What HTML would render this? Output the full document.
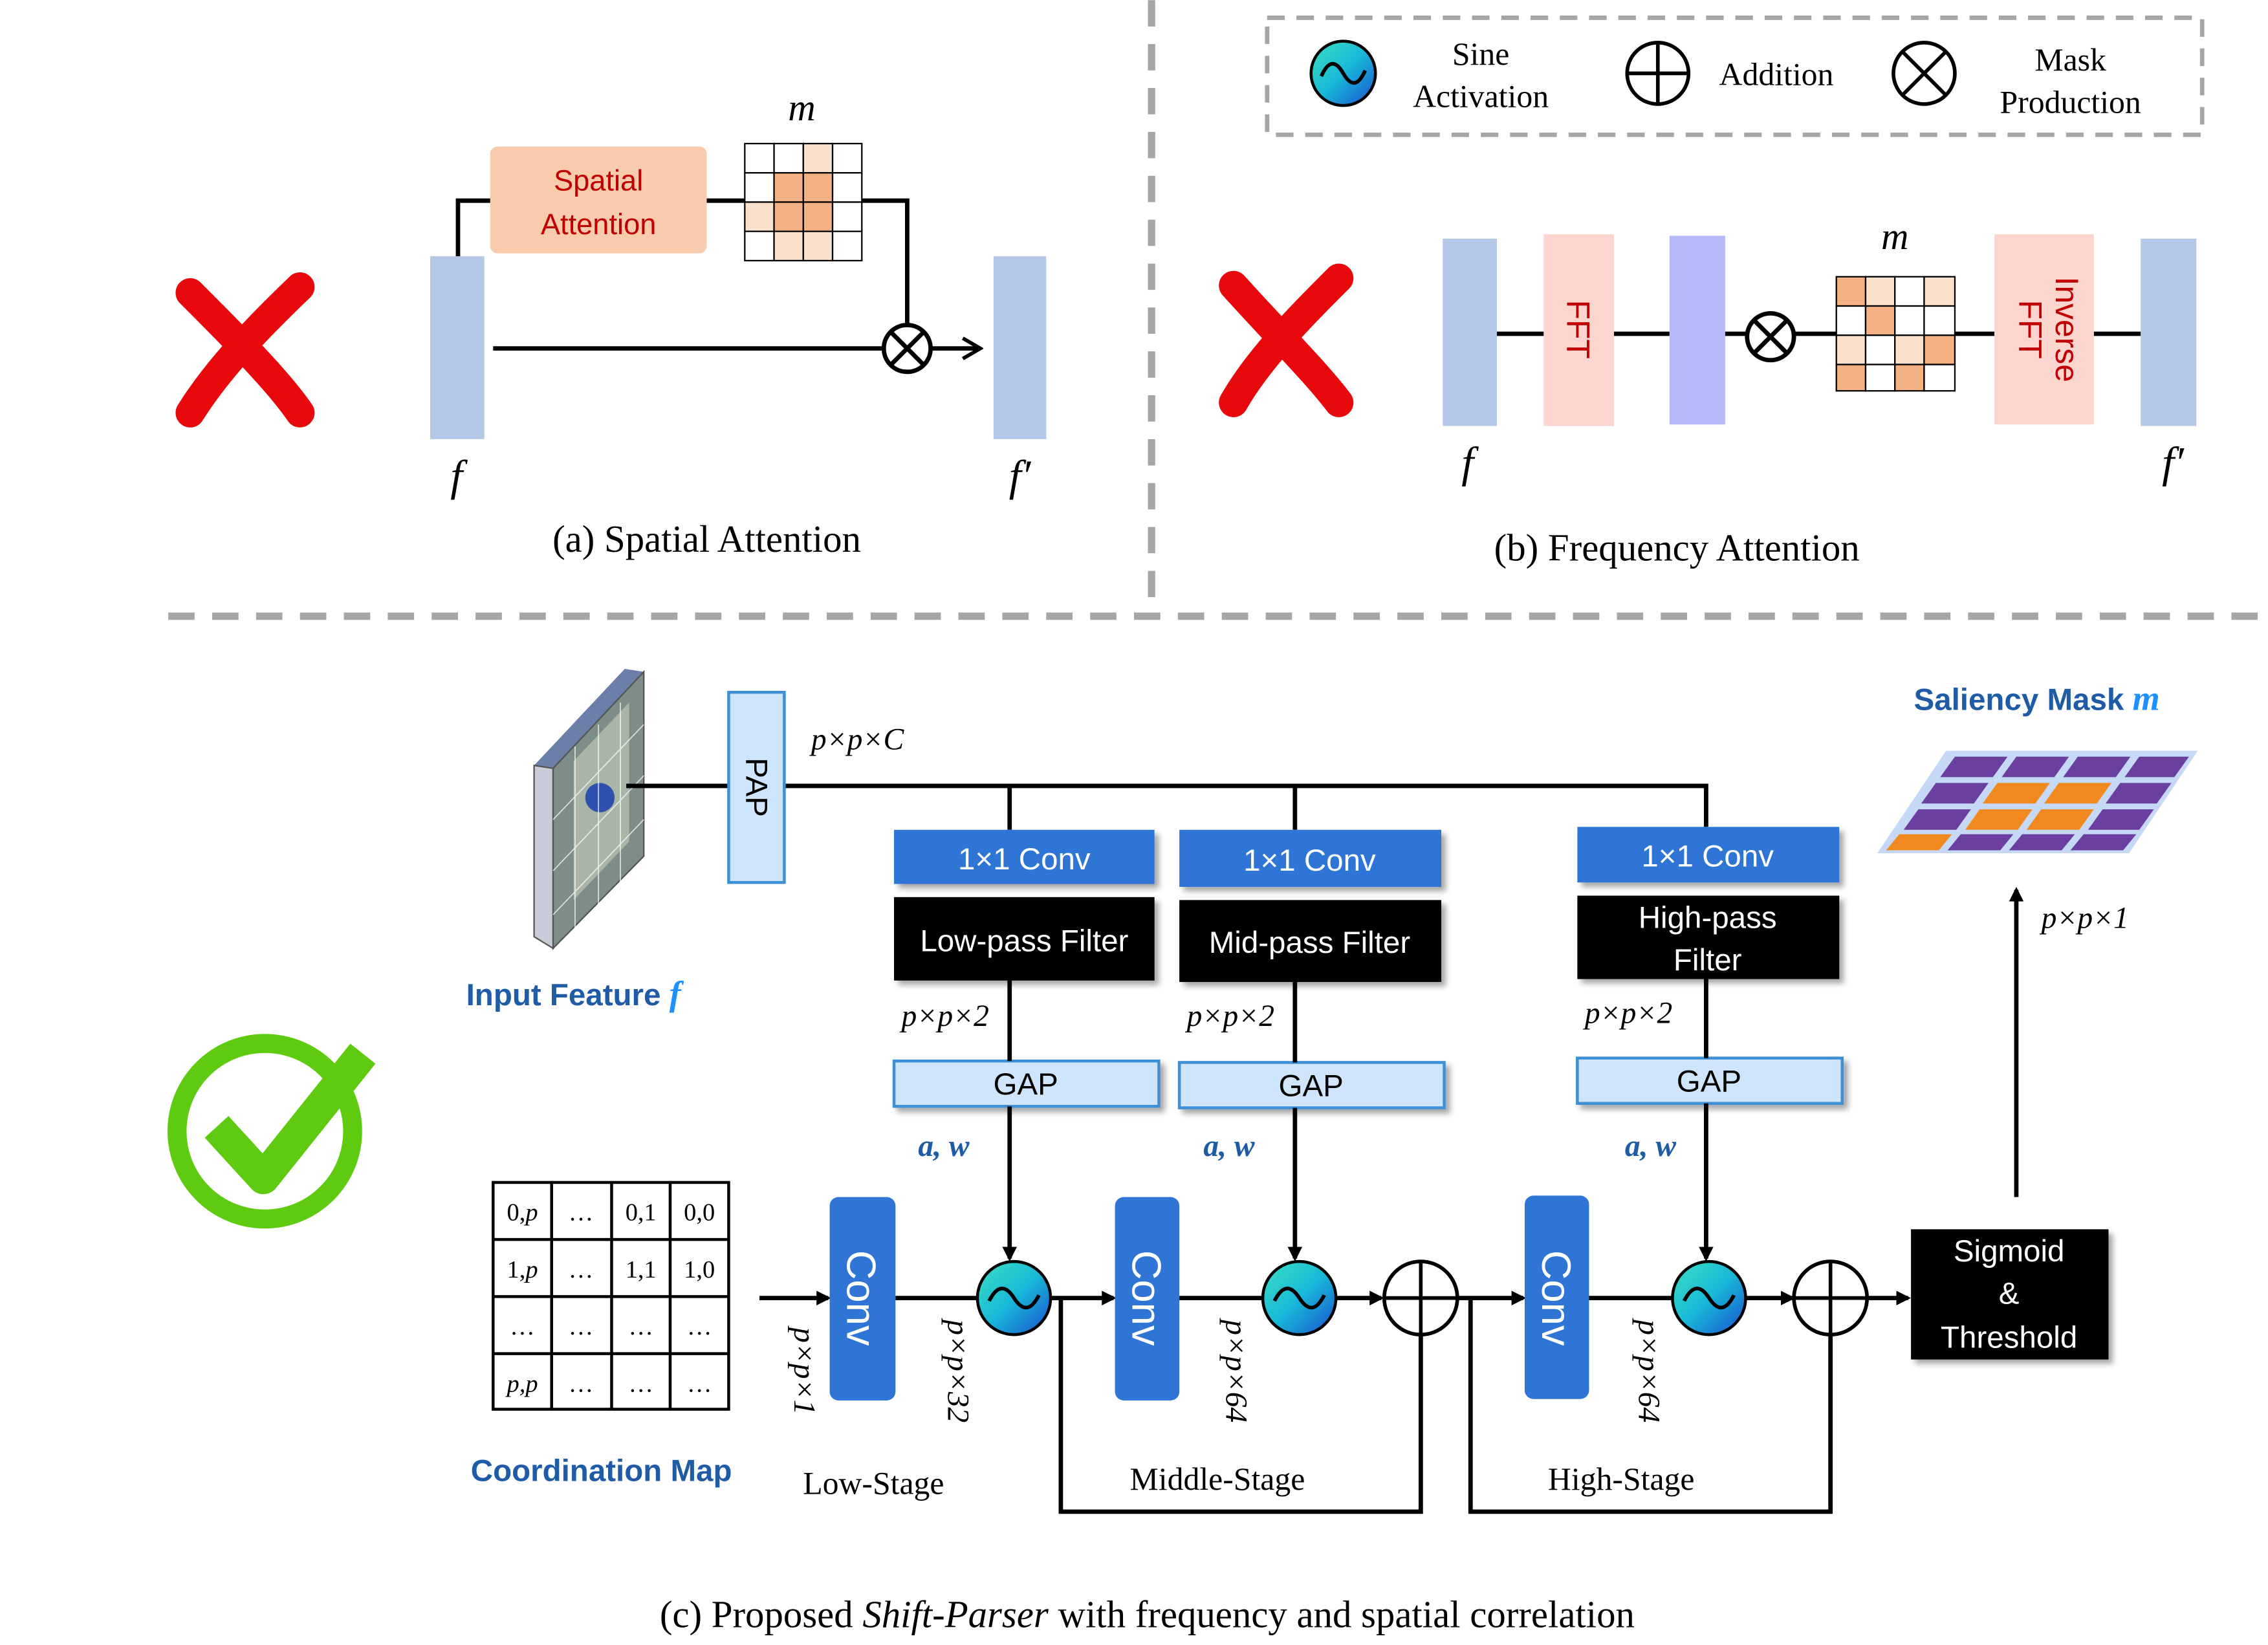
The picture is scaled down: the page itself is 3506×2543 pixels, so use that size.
<!DOCTYPE html>
<html><head><meta charset="utf-8"><style>
html,body{margin:0;padding:0;background:#fff}
svg{display:block}
.s{font-family:"Liberation Serif",serif}
.a{font-family:"Liberation Sans","DejaVu Sans",sans-serif}
</style></head><body>
<svg width="3506" height="2543" viewBox="0 0 1550 1124" xmlns="http://www.w3.org/2000/svg">
<defs>
<linearGradient id="sg" x1="0" y1="0" x2="1" y2="1"><stop offset="0" stop-color="#3de0c0"/><stop offset="0.5" stop-color="#18b8d8"/><stop offset="1" stop-color="#1a4fd0"/></linearGradient>
<marker id="ar" markerWidth="10" markerHeight="10" refX="8" refY="5" orient="auto" markerUnits="userSpaceOnUse"><path d="M0,0 L10,5 L0,10 z" fill="#000"/></marker>
<marker id="ar2" markerWidth="16" markerHeight="16" refX="14" refY="8" orient="auto" markerUnits="userSpaceOnUse"><path d="M2,1 L14,8 L2,15" fill="none" stroke="#000" stroke-width="2.5"/></marker>
<filter id="sh"><feDropShadow dx="3" dy="3" stdDeviation="2" flood-opacity="0.35"/></filter>
</defs>
<g stroke="#a6a6a6" stroke-width="5" stroke-dasharray="18,12" fill="none">
<line x1="787" y1="0" x2="787" y2="420"/>
<line x1="115" y1="421" x2="1550" y2="421"/>
</g>
<rect x="866" y="12" width="639" height="80" fill="none" stroke="#a6a6a6" stroke-width="3" stroke-dasharray="12,8"/>
<!-- legend -->
<circle cx="918" cy="50" r="22" fill="url(#sg)" stroke="#000" stroke-width="2"/>
<path d="M903,52 q7,-16 15,-2 q8,14 15,-2" fill="none" stroke="#000" stroke-width="2.5"/>
<text class="s" x="1012" y="44" font-size="22" text-anchor="middle">Sine</text>
<text class="s" x="1012" y="73" font-size="22" text-anchor="middle">Activation</text>
<circle cx="1133" cy="50" r="21" fill="none" stroke="#000" stroke-width="2.5"/>
<path d="M1112,50 H1154 M1133,29 V71" stroke="#000" stroke-width="2.5"/>
<text class="s" x="1214" y="58" font-size="22" text-anchor="middle">Addition</text>
<circle cx="1315" cy="50" r="21" fill="none" stroke="#000" stroke-width="2.5"/>
<path d="M1300,35 L1330,65 M1330,35 L1300,65" stroke="#000" stroke-width="2.5"/>
<text class="s" x="1415" y="48" font-size="22" text-anchor="middle">Mask</text>
<text class="s" x="1415" y="77" font-size="22" text-anchor="middle">Production</text>
<!-- (a) -->
<path d="M130,200 C160,230 190,260 205,282 M205,196 C180,220 150,250 130,282" stroke="#e8090d" stroke-width="20" stroke-linecap="round" fill="none"/>
<rect x="294" y="175" width="37" height="125" fill="#b4c7e7"/>
<rect x="679" y="175" width="36" height="125" fill="#b4c7e7"/>
<rect x="335" y="100" width="148" height="73" rx="5" fill="#f8cbad"/>
<text class="a" x="409" y="130" font-size="20" fill="#c00000" text-anchor="middle">Spatial</text>
<text class="a" x="409" y="160" font-size="20" fill="#c00000" text-anchor="middle">Attention</text>
<path d="M313,175 V137 H335 M483,137 H509 M589,137 H620 V222" fill="none" stroke="#000" stroke-width="3"/>
<g stroke="#000" stroke-width="1">
<rect x="509" y="98" width="20" height="20" fill="#fff"/><rect x="529" y="98" width="20" height="20" fill="#fff"/><rect x="549" y="98" width="20" height="20" fill="#fbe0cc"/><rect x="569" y="98" width="20" height="20" fill="#fff"/>
<rect x="509" y="118" width="20" height="20" fill="#fff"/><rect x="529" y="118" width="20" height="20" fill="#f4b183"/><rect x="549" y="118" width="20" height="20" fill="#f4b183"/><rect x="569" y="118" width="20" height="20" fill="#fff"/>
<rect x="509" y="138" width="20" height="20" fill="#fbe0cc"/><rect x="529" y="138" width="20" height="20" fill="#f4b183"/><rect x="549" y="138" width="20" height="20" fill="#f4b183"/><rect x="569" y="138" width="20" height="20" fill="#fff"/>
<rect x="509" y="158" width="20" height="20" fill="#fff"/><rect x="529" y="158" width="20" height="20" fill="#fbe0cc"/><rect x="549" y="158" width="20" height="20" fill="#fbe0cc"/><rect x="569" y="158" width="20" height="20" fill="#fff"/>
</g>
<line x1="337" y1="238" x2="604" y2="238" stroke="#000" stroke-width="3"/>
<circle cx="620" cy="238" r="16" fill="#fff" stroke="#000" stroke-width="3"/>
<path d="M609,227 L631,249 M631,227 L609,249" stroke="#000" stroke-width="3"/>
<line x1="636" y1="238" x2="670" y2="238" stroke="#000" stroke-width="3" marker-end="url(#ar2)"/>
<text class="s" x="548" y="82" font-size="26" font-style="italic" text-anchor="middle">m</text>
<text class="s" x="312" y="335" font-size="30" font-style="italic" text-anchor="middle">f</text>
<text class="s" x="697" y="335" font-size="30" font-style="italic" text-anchor="middle">f′</text>
<text class="s" x="483" y="377" font-size="26" text-anchor="middle">(a) Spatial Attention</text>
<!-- (b) -->
<path d="M843,195 C870,225 900,255 915,275 M915,190 C890,215 860,245 843,275" stroke="#e8090d" stroke-width="20" stroke-linecap="round" fill="none"/>
<path d="M1023,228 H1055 M1103,228 H1141 M1179,228 H1194 M1226,228 H1255 M1336,228 H1363 M1431,228 H1463" stroke="#000" stroke-width="3"/>
<rect x="986" y="163" width="37" height="128" fill="#b4c7e7"/>
<rect x="1055" y="160" width="48" height="131" fill="#fcd5ce"/>
<text class="a" x="1079" y="225" font-size="22" fill="#c00000" text-anchor="middle" transform="rotate(90 1079 225)" dy="8">FFT</text>
<rect x="1141" y="161" width="38" height="129" fill="#b4b9f7"/>
<circle cx="1210" cy="230" r="16" fill="#fff" stroke="#000" stroke-width="3"/>
<path d="M1199,219 L1221,241 M1221,219 L1199,241" stroke="#000" stroke-width="3"/>
<g stroke="#000" stroke-width="1">
<rect x="1255" y="189" width="20" height="20" fill="#f4b183"/><rect x="1275" y="189" width="20" height="20" fill="#fbe0cc"/><rect x="1295" y="189" width="20" height="20" fill="#fff"/><rect x="1315" y="189" width="21" height="20" fill="#fbe0cc"/>
<rect x="1255" y="209" width="20" height="20" fill="#fff"/><rect x="1275" y="209" width="20" height="20" fill="#f4b183"/><rect x="1295" y="209" width="20" height="20" fill="#fff"/><rect x="1315" y="209" width="21" height="20" fill="#fff"/>
<rect x="1255" y="229" width="20" height="20" fill="#fbe0cc"/><rect x="1275" y="229" width="20" height="20" fill="#fff"/><rect x="1295" y="229" width="20" height="20" fill="#fbe0cc"/><rect x="1315" y="229" width="21" height="20" fill="#f4b183"/>
<rect x="1255" y="249" width="20" height="18" fill="#f4b183"/><rect x="1275" y="249" width="20" height="18" fill="#fff"/><rect x="1295" y="249" width="20" height="18" fill="#f4b183"/><rect x="1315" y="249" width="21" height="18" fill="#fff"/>
</g>
<rect x="1363" y="160" width="68" height="130" fill="#fcd5ce"/>
<g transform="rotate(90 1397 225)"><text class="a" x="1397" y="217" font-size="22" fill="#c00000" text-anchor="middle">Inverse</text><text class="a" x="1397" y="242" font-size="22" fill="#c00000" text-anchor="middle">FFT</text></g>
<rect x="1463" y="163" width="38" height="128" fill="#b4c7e7"/>
<text class="s" x="1295" y="170" font-size="26" font-style="italic" text-anchor="middle">m</text>
<text class="s" x="1003" y="326" font-size="30" font-style="italic" text-anchor="middle">f</text>
<text class="s" x="1485" y="326" font-size="30" font-style="italic" text-anchor="middle">f′</text>
<text class="s" x="1146" y="383" font-size="26" text-anchor="middle">(b) Frequency Attention</text>
<!-- (c) check -->
<circle cx="181" cy="773" r="60" fill="none" stroke="#5ecb10" stroke-width="13"/>
<path d="M148,770 L180,805 L248,720" fill="none" stroke="#5ecb10" stroke-width="22" stroke-linejoin="round"/>
<!-- cube -->
<polygon points="365,523 427,457 440,459 378,525" fill="#6b7fa8"/>
<polygon points="365,523 378,525 378,648 365,640" fill="#c8ccd8" stroke="#555"/>
<rect x="378" y="462" width="62" height="186" fill="#8a9a7a" transform="skewY(-45) translate(0,0)" opacity="0"/>
<polygon points="378,525 440,459 440,585 378,648" fill="#7d8e88" stroke="#555"/>
<polygon points="392,520 430,480 430,575 392,615" fill="#a9b5a6"/>
<circle cx="410" cy="545" r="10" fill="#3050b0"/>
<g stroke="#fff" stroke-width="0.8" opacity="0.7"><line x1="393" y1="510" x2="393" y2="635"/><line x1="409" y1="495" x2="409" y2="620"/><line x1="424" y1="480" x2="424" y2="605"/><line x1="378" y1="560" x2="440" y2="495"/><line x1="378" y1="595" x2="440" y2="530"/><line x1="378" y1="625" x2="440" y2="560"/></g>
<text class="a" x="392" y="687" font-size="21" font-weight="bold" fill="#1f5ca8" text-anchor="middle">Input Feature <tspan class="s" font-style="italic" fill="#1e90ff" font-size="24">f</tspan></text>
<!-- PAP and top line -->
<path d="M428,537 H1166 V565 M690,537 V567 M885,537 V567" fill="none" stroke="#000" stroke-width="3"/>
<rect x="498" y="473" width="38" height="130" fill="#cfe5fb" stroke="#3d8fd6" stroke-width="2"/>
<text class="a" x="517" y="538" font-size="21" text-anchor="middle" transform="rotate(90 517 538)" dy="7">PAP</text>
<text class="s" x="586" y="512" font-size="21" font-style="italic" text-anchor="middle">p×p×C</text>
<!-- branches -->
<g filter="url(#sh)">
<rect x="611" y="567" width="178" height="37" fill="#2e75d6"/>
<rect x="806" y="567" width="179" height="39" fill="#2e75d6"/>
<rect x="1078" y="565" width="179" height="38" fill="#2e75d6"/>
<rect x="611" y="613" width="178" height="57" fill="#000"/>
<rect x="806" y="615" width="179" height="56" fill="#000"/>
<rect x="1078" y="612" width="179" height="57" fill="#000"/>
<rect x="611" y="725" width="181" height="31" fill="#cfe5fb" stroke="#3d8fd6" stroke-width="2"/>
<rect x="806" y="726" width="181" height="31" fill="#cfe5fb" stroke="#3d8fd6" stroke-width="2"/>
<rect x="1078" y="723" width="181" height="31" fill="#cfe5fb" stroke="#3d8fd6" stroke-width="2"/>
</g>
<g class="a" font-size="21" fill="#fff" text-anchor="middle">
<text x="700" y="594">1×1 Conv</text><text x="895" y="595">1×1 Conv</text><text x="1167" y="592">1×1 Conv</text>
<text x="700" y="650">Low-pass Filter</text><text x="895" y="651">Mid-pass Filter</text>
<text x="1167" y="634">High-pass</text><text x="1167" y="663">Filter</text>
</g>
<g class="a" font-size="21" text-anchor="middle">
<text x="701" y="748">GAP</text><text x="896" y="749">GAP</text><text x="1168" y="746">GAP</text>
</g>
<path d="M690,670 V725 M885,671 V726 M1166,669 V723" stroke="#000" stroke-width="3"/>
<g class="s" font-size="21" font-style="italic" text-anchor="middle">
<text x="646" y="701">p×p×2</text><text x="841" y="701">p×p×2</text><text x="1113" y="699">p×p×2</text>
</g>
<g class="s" font-size="21" font-style="italic" font-weight="bold" fill="#1f5ca8" text-anchor="middle">
<text x="645" y="790">a, w</text><text x="840" y="790">a, w</text><text x="1128" y="790">a, w</text>
</g>
<g stroke="#000" stroke-width="3" fill="none" marker-end="url(#ar)">
<line x1="690" y1="756" x2="690" y2="860"/><line x1="885" y1="757" x2="885" y2="860"/><line x1="1166" y1="754" x2="1166" y2="860"/>
<line x1="519" y1="887" x2="566" y2="887"/><line x1="718" y1="887" x2="761" y2="887"/>
<line x1="913" y1="887" x2="944" y2="887"/><line x1="996" y1="887" x2="1041" y2="887"/>
<line x1="1193" y1="887" x2="1225" y2="887"/><line x1="1276" y1="887" x2="1304" y2="887"/>
<line x1="1378" y1="818" x2="1378" y2="608"/>
</g>
<path d="M612,887 H668 M806,887 H863 M1086,887 H1143 M725,887 V1033 H971 V912 M1005,887 V1033 H1251 V912" fill="none" stroke="#000" stroke-width="3"/>
<g fill="#2e75d6">
<rect x="567" y="818" width="45" height="139" rx="6"/><rect x="762" y="818" width="44" height="139" rx="6"/><rect x="1042" y="817" width="44" height="139" rx="6"/>
</g>
<g class="a" font-size="28" fill="#fff" text-anchor="middle">
<text x="589" y="887" transform="rotate(90 589 887)" dy="10">Conv</text>
<text x="784" y="887" transform="rotate(90 784 887)" dy="10">Conv</text>
<text x="1064" y="887" transform="rotate(90 1064 887)" dy="10">Conv</text>
</g>
<g>
<circle cx="693" cy="887" r="25" fill="url(#sg)" stroke="#000" stroke-width="2"/>
<circle cx="888" cy="887" r="25" fill="url(#sg)" stroke="#000" stroke-width="2"/>
<circle cx="1168" cy="887" r="25" fill="url(#sg)" stroke="#000" stroke-width="2"/>
<g fill="none" stroke="#000" stroke-width="2.5">
<path d="M676,889 q8,-16 17,-2 q9,14 17,-2"/><path d="M871,889 q8,-16 17,-2 q9,14 17,-2"/><path d="M1151,889 q8,-16 17,-2 q9,14 17,-2"/>
</g>
</g>
<circle cx="971" cy="887" r="25" fill="#fff" stroke="#000" stroke-width="2.5"/>
<path d="M946,887 H996 M971,862 V912" stroke="#000" stroke-width="2.5"/>
<circle cx="1251" cy="887" r="25" fill="#fff" stroke="#000" stroke-width="2.5"/>
<path d="M1226,887 H1276 M1251,862 V912" stroke="#000" stroke-width="2.5"/>
<rect x="1306" y="840" width="135" height="89" fill="#000" filter="url(#sh)"/>
<g class="a" font-size="21" fill="#fff" text-anchor="middle">
<text x="1373" y="862">Sigmoid</text><text x="1373" y="891">&amp;</text><text x="1373" y="921">Threshold</text>
</g>
<g class="s" font-size="21" font-style="italic" text-anchor="middle">
<text x="543" y="937" transform="rotate(90 543 937)">p×p×1</text>
<text x="648" y="937" transform="rotate(90 648 937)">p×p×32</text>
<text x="838" y="937" transform="rotate(90 838 937)">p×p×64</text>
<text x="1120" y="937" transform="rotate(90 1120 937)">p×p×64</text>
<text x="1425" y="634">p×p×1</text>
</g>
<g class="s" font-size="22" text-anchor="middle">
<text x="597" y="1021">Low-Stage</text><text x="832" y="1018">Middle-Stage</text><text x="1108" y="1018">High-Stage</text>
</g>
<!-- coord map -->
<g fill="#fff" stroke="#000" stroke-width="2">
<rect x="337" y="808" width="161" height="155"/>
<path d="M377,808 V963 M418,808 V963 M458,808 V963 M337,847 H498 M337,886 H498 M337,925 H498"/>
</g>
<g class="s" font-size="17" text-anchor="middle">
<text x="357" y="834"><tspan>0,</tspan><tspan font-style="italic">p</tspan></text><text x="397" y="834">…</text><text x="438" y="834">0,1</text><text x="478" y="834">0,0</text>
<text x="357" y="873"><tspan>1,</tspan><tspan font-style="italic">p</tspan></text><text x="397" y="873">…</text><text x="438" y="873">1,1</text><text x="478" y="873">1,0</text>
<text x="357" y="912">…</text><text x="397" y="912">…</text><text x="438" y="912">…</text><text x="478" y="912">…</text>
<text x="357" y="951" font-style="italic">p,p</text><text x="397" y="951">…</text><text x="438" y="951">…</text><text x="478" y="951">…</text>
</g>
<text class="a" x="411" y="1012" font-size="21" font-weight="bold" fill="#1f5ca8" text-anchor="middle">Coordination Map</text>
<!-- saliency mask -->
<text class="a" x="1392" y="485" font-size="21" font-weight="bold" fill="#1f5ca8" text-anchor="middle">Saliency Mask <tspan class="s" font-style="italic" fill="#1e90ff" font-size="24">m</tspan></text>
<polygon points="1330,513 1502,513 1455,583 1283,583" fill="#c5d8f5"/>
<g>
<polygon points="1336,517 1372,517 1362,531 1326,531" fill="#6a3fa0"/><polygon points="1378,517 1414,517 1404,531 1368,531" fill="#6a3fa0"/><polygon points="1420,517 1456,517 1446,531 1410,531" fill="#6a3fa0"/><polygon points="1462,517 1496,517 1486,531 1452,531" fill="#6a3fa0"/>
<polygon points="1323,535 1359,535 1349,549 1313,549" fill="#6a3fa0"/><polygon points="1365,535 1401,535 1391,549 1355,549" fill="#f08a20"/><polygon points="1407,535 1443,535 1433,549 1397,549" fill="#f08a20"/><polygon points="1449,535 1484,535 1474,549 1439,549" fill="#6a3fa0"/>
<polygon points="1311,553 1347,553 1337,567 1301,567" fill="#6a3fa0"/><polygon points="1353,553 1389,553 1379,567 1343,567" fill="#f08a20"/><polygon points="1395,553 1431,553 1421,567 1385,567" fill="#f08a20"/><polygon points="1437,553 1472,553 1462,567 1427,567" fill="#6a3fa0"/>
<polygon points="1298,570 1334,570 1325,581 1289,581" fill="#f08a20"/><polygon points="1340,570 1376,570 1367,581 1331,581" fill="#6a3fa0"/><polygon points="1382,570 1418,570 1409,581 1373,581" fill="#6a3fa0"/><polygon points="1424,570 1460,570 1451,581 1415,581" fill="#6a3fa0"/>
</g>
<text class="s" x="784" y="1112" font-size="26" text-anchor="middle">(c) Proposed <tspan font-style="italic">Shift-Parser</tspan> with frequency and spatial correlation</text>
</svg>
</body></html>
